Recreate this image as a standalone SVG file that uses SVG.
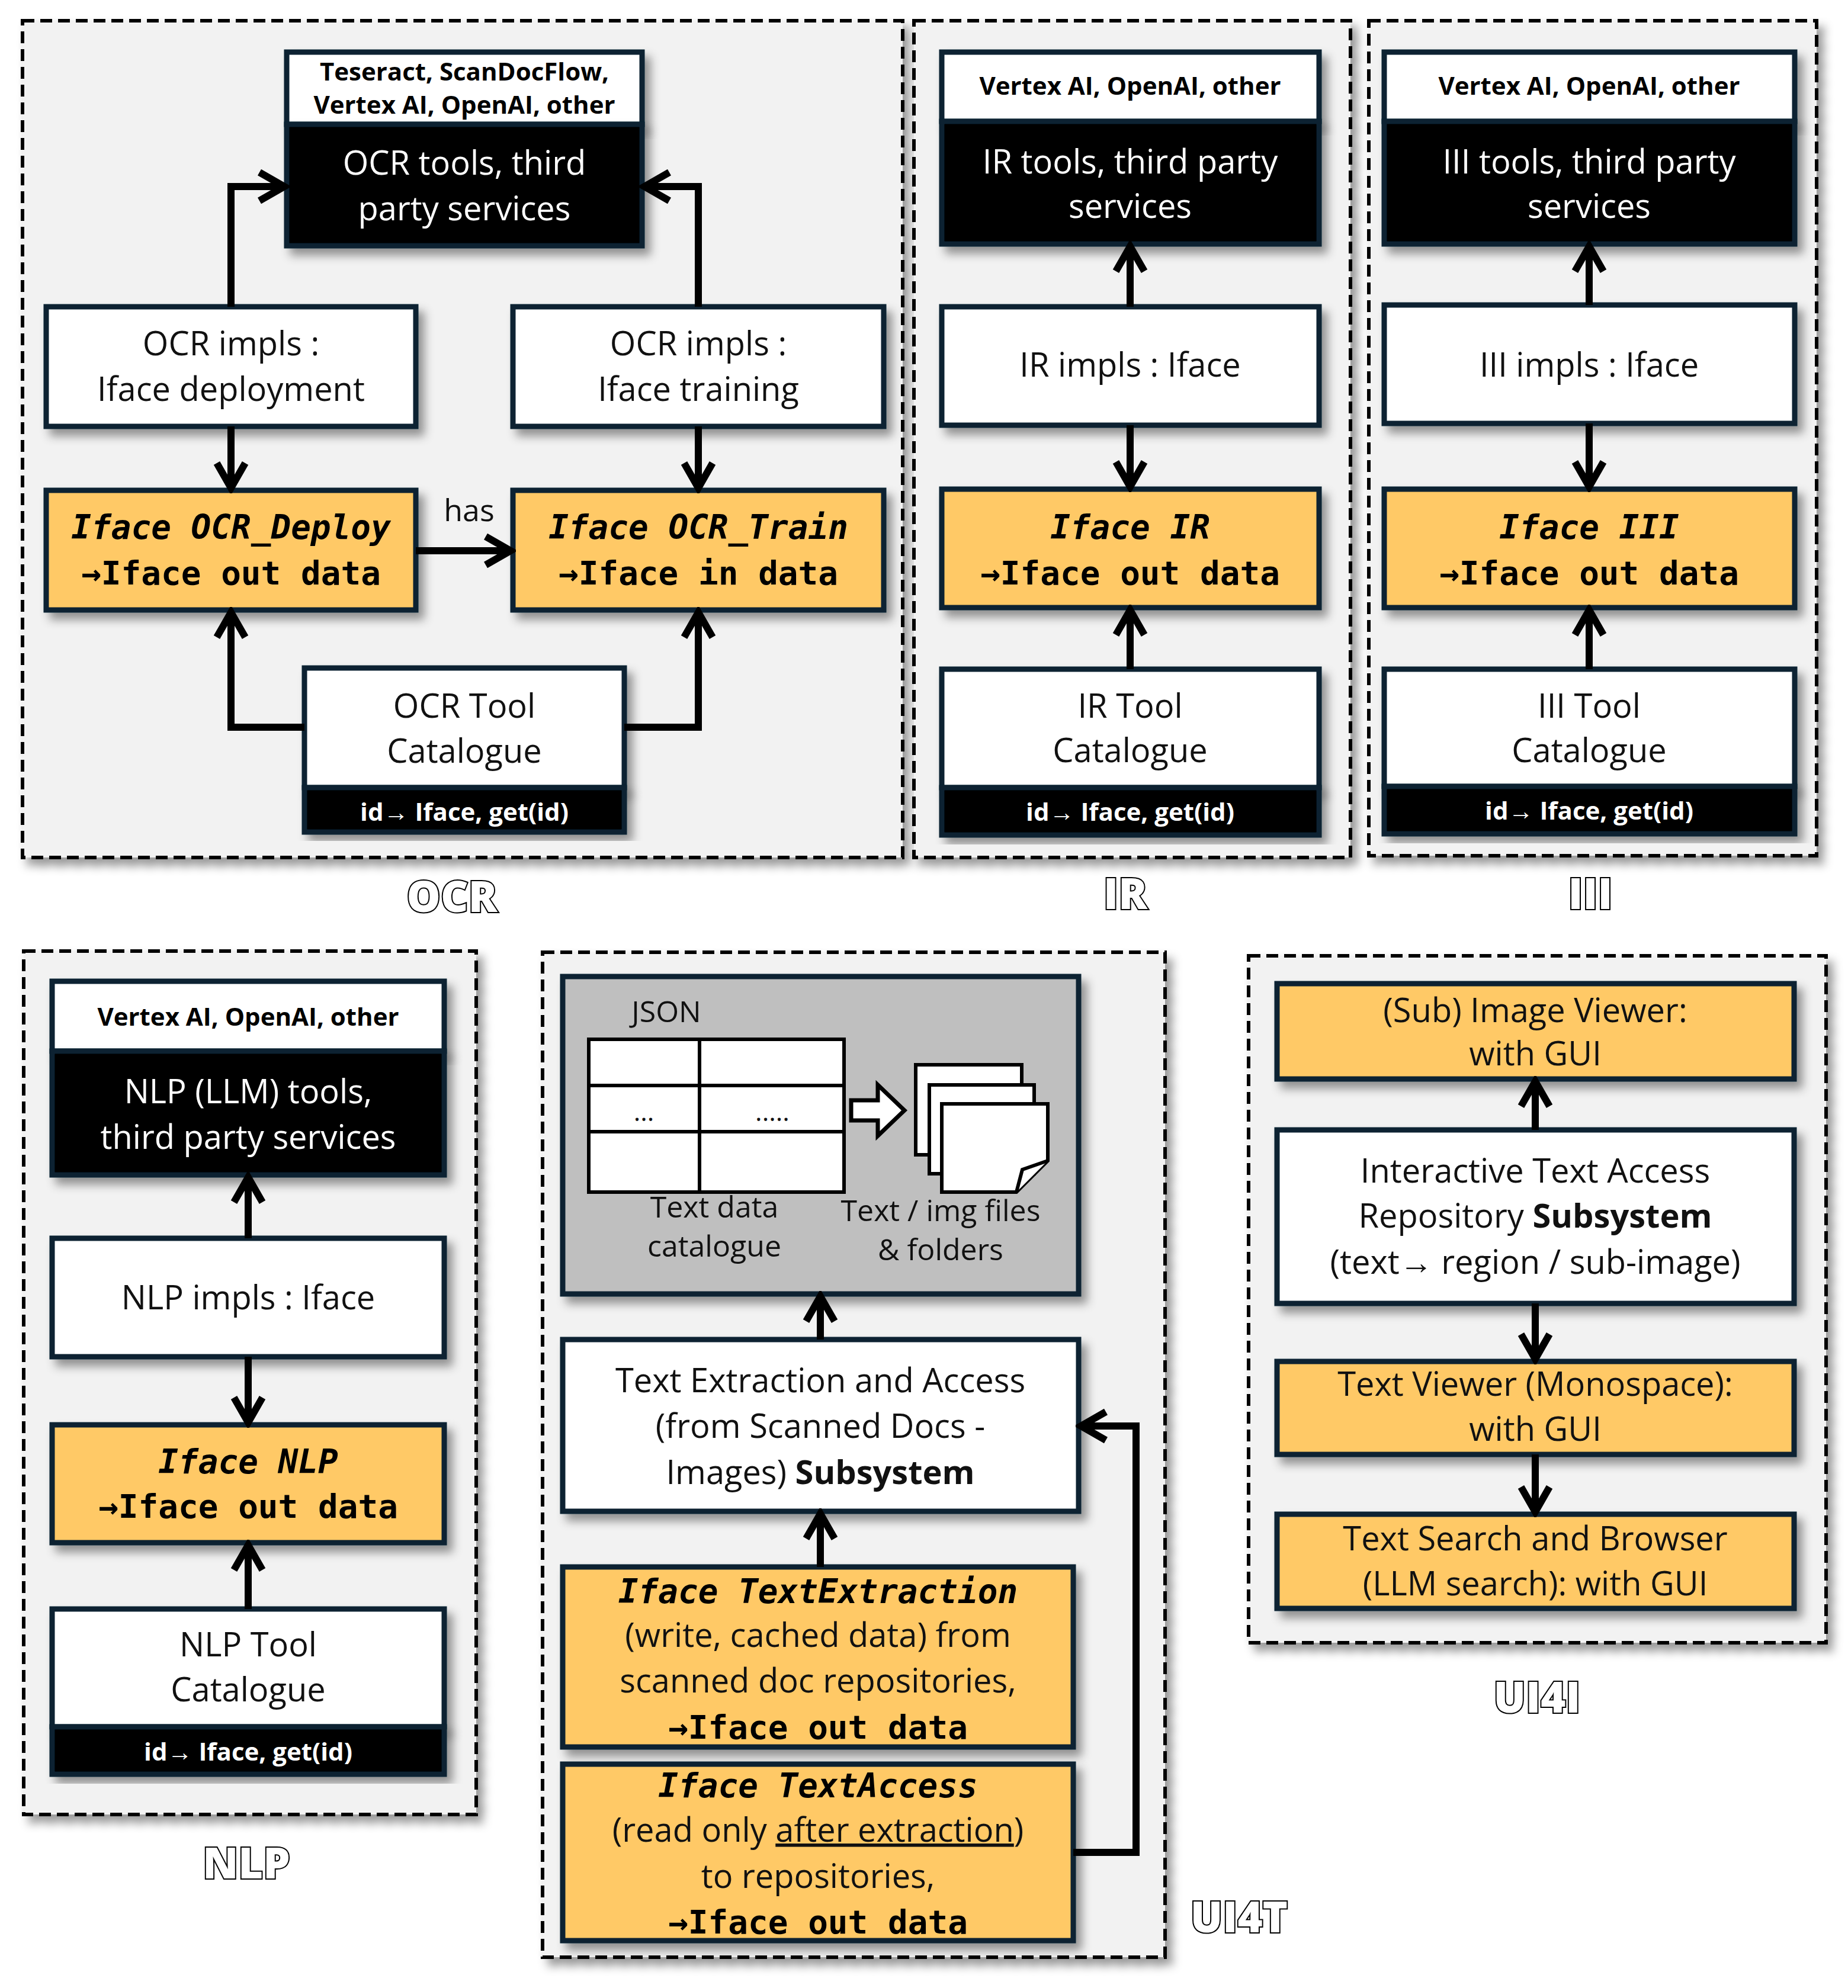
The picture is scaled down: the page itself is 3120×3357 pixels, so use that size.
<svg xmlns="http://www.w3.org/2000/svg" width="3120" height="3357" viewBox="0 0 3120 3357">
<defs>
<filter id="sh" x="-10%" y="-10%" width="125%" height="130%"><feDropShadow dx="10" dy="12" stdDeviation="8" flood-color="#000" flood-opacity="0.4"/></filter>
<marker id="ah" viewBox="0 0 10 10" refX="8.5" refY="5" markerWidth="5" markerHeight="5" orient="auto" markerUnits="strokeWidth"><path d="M1.5,1 L8.5,5 L1.5,9" fill="none" stroke="#000" stroke-width="2" stroke-linejoin="miter"/></marker>
</defs>
<style>
.panel{fill:#f2f2f2;stroke:#000;stroke-width:6;stroke-dasharray:20 10;filter:url(#sh)}
.w{fill:#fff;stroke:#0c2233;stroke-width:9;filter:url(#sh)}
.k{fill:#000;stroke:#0c2233;stroke-width:9;filter:url(#sh)}
.y{fill:#ffc966;stroke:#0c2233;stroke-width:9;filter:url(#sh)}
.g{fill:#bfbfbf;stroke:#0c2233;stroke-width:9;filter:url(#sh)}
text{font-family:"Open Sans","Noto Sans",sans-serif;text-anchor:middle}
.t{font-size:56px;fill:#111}
.tw{font-size:56px;fill:#fff}
.hd{font-size:42px;font-weight:bold;fill:#000}
.hw{font-size:42px;font-weight:bold;fill:#fff}
.m{font-family:"DejaVu Sans Mono","Liberation Mono",monospace;font-size:56px;font-weight:bold;fill:#000}
.mi{font-style:italic}
.lab{font-family:"Open Sans","Liberation Sans",sans-serif;font-size:72px;font-weight:800;fill:#fff;stroke:#000;stroke-width:4;paint-order:stroke}
.c{fill:none;stroke:#000;stroke-width:12;marker-end:url(#ah)}
.c0{fill:none;stroke:#000;stroke-width:12}
</style>

<g id="panel-ocr"><rect class="panel" x="38" y="35" width="1486" height="1413"/><text class="lab" x="763" y="1540">OCR</text></g>
<g id="panel-ir"><rect class="panel" x="1543" y="35" width="737" height="1413"/><text class="lab" x="1900" y="1535">IR</text></g>
<g id="panel-iii"><rect class="panel" x="2311" y="35" width="756" height="1410"/><text class="lab" x="2685" y="1535">III</text></g>
<g id="panel-nlp"><rect class="panel" x="40" y="1606" width="764" height="1458"/><text class="lab" x="416" y="3172">NLP</text></g>
<g id="panel-ui4t"><rect class="panel" x="916" y="1608" width="1051" height="1697"/><text class="lab" x="2092" y="3263">UI4T</text></g>
<g id="panel-ui4i"><rect class="panel" x="2108" y="1614" width="975" height="1160"/><text class="lab" x="2595" y="2892">UI4I</text></g>

<!-- OCR -->
<g id="ocr-tools"><rect class="w" x="484" y="88" width="600" height="122"/><rect class="k" x="484" y="210" width="600" height="205"/>
<text class="hd" x="784" y="136">Teseract, ScanDocFlow,</text><text class="hd" x="784" y="192">Vertex AI, OpenAI, other</text>
<text class="tw" x="784" y="295">OCR tools, third</text><text class="tw" x="784" y="372">party services</text></g>
<g id="ocr-impl-deploy"><rect class="w" x="78" y="518" width="624" height="202"/><text class="t" x="390" y="600">OCR impls :</text><text class="t" x="390" y="677">Iface deployment</text></g>
<g id="ocr-impl-train"><rect class="w" x="866" y="518" width="626" height="202"/><text class="t" x="1179" y="600">OCR impls :</text><text class="t" x="1179" y="677">Iface training</text></g>
<g id="ocr-iface-deploy"><rect class="y" x="78" y="828" width="624" height="202"/><text class="m mi" x="390" y="910">Iface OCR_Deploy</text><text class="m" x="390" y="987">→Iface out data</text></g>
<g id="ocr-iface-train"><rect class="y" x="866" y="828" width="626" height="202"/><text class="m mi" x="1179" y="910">Iface OCR_Train</text><text class="m" x="1179" y="987">→Iface in data</text></g>
<g id="ocr-catalogue"><rect class="w" x="514" y="1128" width="540" height="202"/><rect class="k" x="514" y="1330" width="540" height="75"/>
<text class="t" x="784" y="1212">OCR Tool</text><text class="t" x="784" y="1288">Catalogue</text><text class="hw" x="784" y="1386">id→ Iface, get(id)</text></g>

<!-- IR -->
<g id="ir-tools"><rect class="w" x="1590" y="88" width="637" height="117"/><rect class="k" x="1590" y="205" width="637" height="207"/>
<text class="hd" x="1908" y="160">Vertex AI, OpenAI, other</text>
<text class="tw" x="1908" y="293">IR tools, third party</text><text class="tw" x="1908" y="368">services</text></g>
<g id="ir-impl"><rect class="w" x="1590" y="518" width="637" height="200"/><text class="t" x="1908" y="636">IR impls : Iface</text></g>
<g id="ir-iface"><rect class="y" x="1590" y="826" width="637" height="200"/><text class="m mi" x="1908" y="910">Iface IR</text><text class="m" x="1908" y="987">→Iface out data</text></g>
<g id="ir-catalogue"><rect class="w" x="1590" y="1130" width="637" height="200"/><rect class="k" x="1590" y="1330" width="637" height="80"/>
<text class="t" x="1908" y="1212">IR Tool</text><text class="t" x="1908" y="1287">Catalogue</text><text class="hw" x="1908" y="1386">id→ Iface, get(id)</text></g>

<!-- III -->
<g id="iii-tools"><rect class="w" x="2337" y="88" width="693" height="117"/><rect class="k" x="2337" y="205" width="693" height="207"/>
<text class="hd" x="2683" y="160">Vertex AI, OpenAI, other</text>
<text class="tw" x="2683" y="293">III tools, third party</text><text class="tw" x="2683" y="368">services</text></g>
<g id="iii-impl"><rect class="w" x="2337" y="515" width="693" height="200"/><text class="t" x="2683" y="636">III impls : Iface</text></g>
<g id="iii-iface"><rect class="y" x="2337" y="826" width="693" height="200"/><text class="m mi" x="2683" y="910">Iface III</text><text class="m" x="2683" y="987">→Iface out data</text></g>
<g id="iii-catalogue"><rect class="w" x="2337" y="1130" width="693" height="198"/><rect class="k" x="2337" y="1328" width="693" height="80"/>
<text class="t" x="2683" y="1212">III Tool</text><text class="t" x="2683" y="1287">Catalogue</text><text class="hw" x="2683" y="1384">id→ Iface, get(id)</text></g>

<!-- NLP -->
<g id="nlp-tools"><rect class="w" x="88" y="1657" width="662" height="118"/><rect class="k" x="88" y="1775" width="662" height="209"/>
<text class="hd" x="419" y="1732">Vertex AI, OpenAI, other</text>
<text class="tw" x="419" y="1863">NLP (LLM) tools,</text><text class="tw" x="419" y="1940">third party services</text></g>
<g id="nlp-impl"><rect class="w" x="88" y="2091" width="662" height="200"/><text class="t" x="419" y="2211">NLP impls : Iface</text></g>
<g id="nlp-iface"><rect class="y" x="88" y="2406" width="662" height="199"/><text class="m mi" x="419" y="2488">Iface NLP</text><text class="m" x="419" y="2563">→Iface out data</text></g>
<g id="nlp-catalogue"><rect class="w" x="88" y="2717" width="662" height="199"/><rect class="k" x="88" y="2916" width="662" height="80"/>
<text class="t" x="419" y="2797">NLP Tool</text><text class="t" x="419" y="2873">Catalogue</text><text class="hw" x="419" y="2973">id→ Iface, get(id)</text></g>

<!-- UI4T -->
<g id="json-store"><rect class="g" x="950" y="1649" width="871" height="536"/>
<text class="t" x="1125" y="1726" style="font-size:50px">JSON</text>
<rect x="994" y="1755" width="431" height="258" fill="#fff" stroke="#000" stroke-width="6"/>
<path d="M1181,1755 V2013 M994,1833 H1425 M994,1911 H1425" stroke="#000" stroke-width="6"/>
<text class="t" x="1087" y="1893" style="font-size:44px">...</text><text class="t" x="1304" y="1893" style="font-size:44px">.....</text>
<path d="M1437,1858 H1482 V1832 L1527,1875 L1482,1918 V1892 H1437 Z" fill="#fff" stroke="#000" stroke-width="7"/>
<rect x="1546" y="1798" width="179" height="152" fill="#fff" stroke="#000" stroke-width="6"/>
<rect x="1569" y="1832" width="177" height="150" fill="#fff" stroke="#000" stroke-width="6"/>
<path d="M1590,1864 H1769 V1960 L1716,2013 H1590 Z" fill="#fff" stroke="#000" stroke-width="6"/>
<path d="M1716,2013 L1726,1975 L1769,1960" fill="#fff" stroke="#000" stroke-width="6"/>
<text class="t" x="1206" y="2056" style="font-size:50px">Text data</text><text class="t" x="1206" y="2122" style="font-size:50px">catalogue</text>
<text class="t" x="1588" y="2062" style="font-size:50px">Text / img files</text><text class="t" x="1588" y="2128" style="font-size:50px">&amp; folders</text></g>
<g id="tea-subsystem"><rect class="w" x="950" y="2262" width="871" height="290"/>
<text class="t" x="1385" y="2351">Text Extraction and Access</text><text class="t" x="1385" y="2428">(from Scanned Docs -</text><text class="t" x="1385" y="2506">Images) <tspan font-weight="bold">Subsystem</tspan></text></g>
<g id="iface-textextraction"><rect class="y" x="950" y="2646" width="862" height="304"/>
<text class="m mi" x="1381" y="2707">Iface TextExtraction</text><text class="t" x="1381" y="2781">(write, cached data) from</text><text class="t" x="1381" y="2858">scanned doc repositories,</text><text class="m" x="1381" y="2936">→Iface out data</text></g>
<g id="iface-textaccess"><rect class="y" x="950" y="2979" width="862" height="298"/>
<text class="m mi" x="1381" y="3035">Iface TextAccess</text><text class="t" x="1381" y="3110">(read only <tspan text-decoration="underline">after extraction</tspan>)</text><text class="t" x="1381" y="3188">to repositories,</text><text class="m" x="1381" y="3265">→Iface out data</text></g>

<!-- UI4I -->
<g id="image-viewer"><rect class="y" x="2156" y="1661" width="873" height="161"/><text class="t" x="2592" y="1726">(Sub) Image Viewer:</text><text class="t" x="2592" y="1799">with GUI</text></g>
<g id="itar-subsystem"><rect class="w" x="2156" y="1908" width="873" height="293"/><text class="t" x="2592" y="1997">Interactive Text Access</text><text class="t" x="2592" y="2073">Repository <tspan font-weight="bold">Subsystem</tspan></text><text class="t" x="2592" y="2151">(text→ region / sub-image)</text></g>
<g id="text-viewer"><rect class="y" x="2156" y="2299" width="873" height="157"/><text class="t" x="2592" y="2357">Text Viewer (Monospace):</text><text class="t" x="2592" y="2433">with GUI</text></g>
<g id="text-search"><rect class="y" x="2156" y="2557" width="873" height="159"/><text class="t" x="2592" y="2618">Text Search and Browser</text><text class="t" x="2592" y="2694">(LLM search): with GUI</text></g>

<g id="connectors">
<path class="c" d="M390,518 V315 H480"/>
<path class="c" d="M1179,518 V315 H1088"/>
<path class="c" d="M390,720 V824"/>
<path class="c" d="M1179,720 V824"/>
<path class="c" d="M702,930 H862"/>
<text class="t" x="792" y="880" style="font-size:52px">has</text>
<path class="c" d="M514,1228 H390 V1034"/>
<path class="c" d="M1054,1228 H1179 V1034"/>
<path class="c" d="M1908,518 V416"/>
<path class="c" d="M1908,718 V822"/>
<path class="c" d="M1908,1130 V1030"/>
<path class="c" d="M2683,515 V416"/>
<path class="c" d="M2683,715 V822"/>
<path class="c" d="M2683,1130 V1030"/>
<path class="c" d="M419,2091 V1988"/>
<path class="c" d="M419,2291 V2402"/>
<path class="c" d="M419,2717 V2609"/>
<path class="c" d="M1385,2262 V2189"/>
<path class="c" d="M1385,2646 V2556"/>
<path class="c" d="M1812,3128 H1918 V2408 H1825"/>
<path class="c" d="M2592,1908 V1826"/>
<path class="c" d="M2592,2201 V2295"/>
<path class="c" d="M2592,2456 V2553"/>
</g>
</svg>
